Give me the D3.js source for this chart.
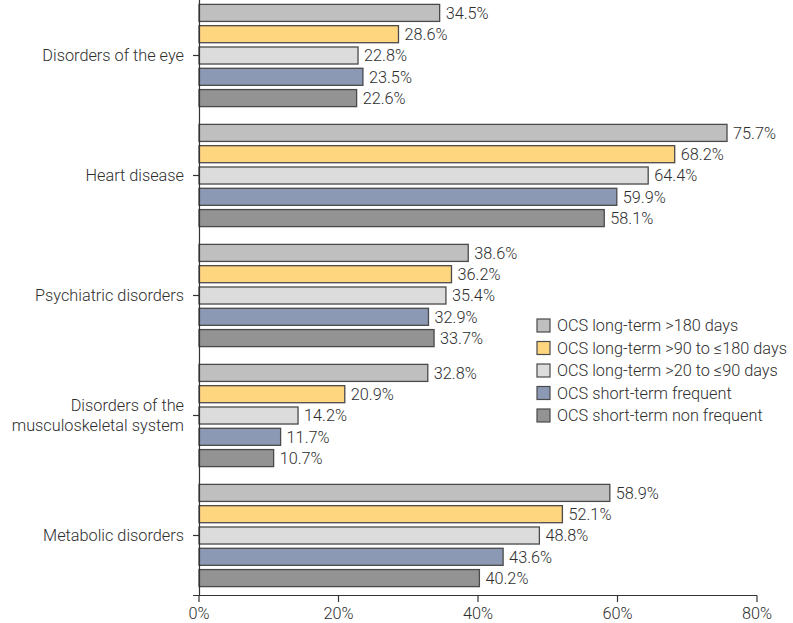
<!DOCTYPE html>
<html><head><meta charset="utf-8">
<script src="https://cdn.jsdelivr.net/npm/d3@7/dist/d3.min.js"></script>
<style>body{margin:0;background:#fff}svg text{font-family:Roboto,"DejaVu Sans",sans-serif;fill:#2e2e2e;font-weight:300}</style>
</head><body>
<svg id="c" width="793" height="623"></svg>
<script>
const categories = ["Disorders of the eye","Heart disease","Psychiatric disorders","Disorders of the\nmusculoskeletal system","Metabolic disorders"];
const seriesNames = ["OCS long-term >180 days","OCS long-term >90 to \u2264180 days","OCS long-term >20 to \u226490 days","OCS short-term frequent","OCS short-term non frequent"];
const longTerm180 = [34.5,75.7,38.6,32.8,58.9];
const longTerm90to180 = [28.6,68.2,36.2,20.9,52.1];
const longTerm20to90 = [22.8,64.4,35.4,14.2,48.8];
const shortFrequent = [23.5,59.9,32.9,11.7,43.6];
const shortNonFrequent = [22.6,58.1,33.7,10.7,40.2];
const xTicks = [0,20,40,60,80];
const colors = ["#bfbfbf","#fdd67f","#dcdcdc","#8c99b4","#939393"];

const values = [longTerm180,longTerm90to180,longTerm20to90,shortFrequent,shortNonFrequent];
const FS = 16.3;
const svg = d3.select("#c");
const x = d3.scaleLinear().domain([0,80]).range([199,757]);
const y0 = d3.scaleBand().domain(categories).range([-4.5,595.5]).paddingInner(0.1125).paddingOuter(0.05625);
const y1 = d3.scaleBand().domain(d3.range(5)).range([0,y0.bandwidth()]).paddingInner(0.2).paddingOuter(0.1);

const g = svg.append("g");
categories.forEach((c,ci)=>{
  values.forEach((vals,si)=>{
    const v = vals[ci];
    const yy = y0(c)+y1(si);
    g.append("rect").attr("x",x(0)).attr("y",yy).attr("width",x(v)-x(0)).attr("height",y1.bandwidth())
      .attr("fill",colors[si]).attr("stroke","#4a4a4a").attr("stroke-width",1.3);
    g.append("text").attr("x",x(v)+6).attr("y",yy+y1.bandwidth()/2).attr("dy","0.36em")
      .attr("font-size",FS).text(v.toFixed(1)+"%");
  });
});

// x axis
const xa = svg.append("g");
xa.append("line").attr("x1",193).attr("x2",x(80)).attr("y1",595.5).attr("y2",595.5).attr("stroke","#333").attr("stroke-width",1.2);
xTicks.forEach(t=>{
  xa.append("line").attr("x1",x(t)).attr("x2",x(t)).attr("y1",595.5).attr("y2",602).attr("stroke","#333").attr("stroke-width",1.2);
  xa.append("text").attr("x",x(t)).attr("y",613).attr("dy","0.36em").attr("text-anchor","middle").attr("font-size",FS).text(t+"%");
});
// y axis
const ya = svg.append("g");
ya.append("line").attr("x1",199.5).attr("x2",199.5).attr("y1",0).attr("y2",595.5).attr("stroke","#333").attr("stroke-width",1.2);
categories.forEach(c=>{
  const cy = y0(c)+y0.bandwidth()/2;
  ya.append("line").attr("x1",193).attr("x2",199).attr("y1",cy).attr("y2",cy).attr("stroke","#333").attr("stroke-width",1.2);
  const lines = c.split("\n");
  lines.forEach((l,i)=>{
    ya.append("text").attr("x",184).attr("y",cy+(i-(lines.length-1)/2)*20).attr("dy","0.36em")
      .attr("text-anchor","end").attr("font-size",FS).text(l);
  });
});

// legend
const lg = svg.append("g");
seriesNames.forEach((n,i)=>{
  const yy = 319 + i*22.5;
  lg.append("rect").attr("x",537).attr("y",yy).attr("width",13).attr("height",13)
    .attr("fill",colors[i]).attr("stroke","#4a4a4a").attr("stroke-width",1.2);
  lg.append("text").attr("x",557).attr("y",yy+6.5).attr("dy","0.36em").attr("font-size",FS).text(n);
});
</script>
</body></html>
